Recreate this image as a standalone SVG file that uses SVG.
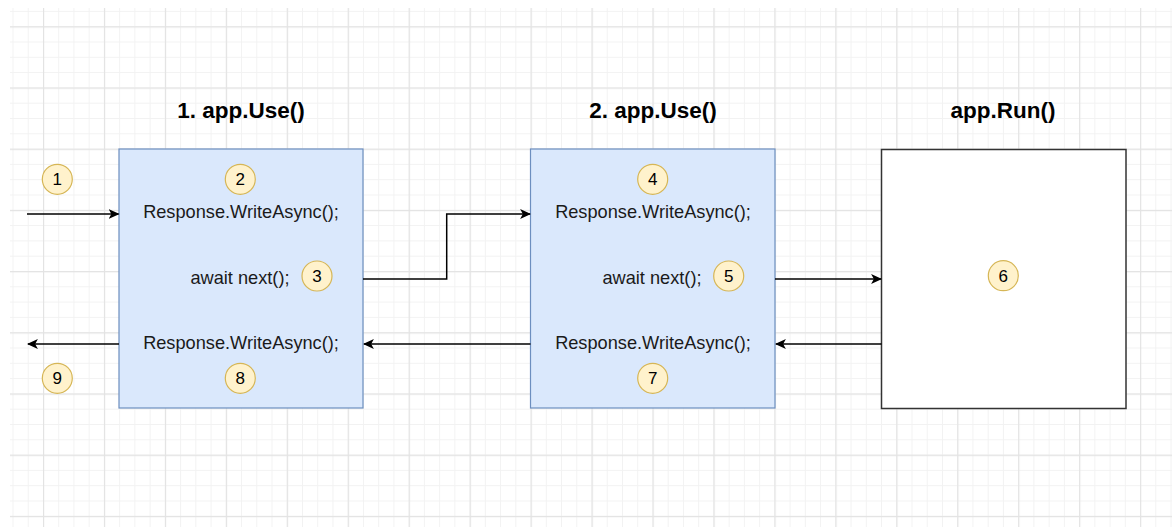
<svg xmlns="http://www.w3.org/2000/svg" width="1172" height="527" viewBox="0 0 1172 527">
  <defs>
    <pattern id="minor" x="12.5" y="10.9" width="15.2375" height="15.3" patternUnits="userSpaceOnUse">
      <path d="M0.5,0 V15.3 M0,0.5 H15.2375" fill="none" stroke="#f2f2f2" stroke-width="1"/>
    </pattern>
    <pattern id="major" x="43" y="26.3" width="60.95" height="61.2" patternUnits="userSpaceOnUse">
      <path d="M0.5,0 V61.2 M0,0.5 H60.95" fill="none" stroke="#e3e3e3" stroke-width="1.4"/>
    </pattern>
    <marker id="arrow" viewBox="0 0 10 10" refX="9" refY="5" markerWidth="11" markerHeight="11" markerUnits="userSpaceOnUse" orient="auto">
      <path d="M0,0.5 L10,5 L0,9.5 L2.5,5 Z" fill="#000"/>
    </marker>
  </defs>
  <style>
    .title { font-family: "Liberation Sans", Arial, sans-serif; font-weight: bold; font-size: 22.5px; fill: #000; text-anchor: middle; }
    .code { font-family: "Liberation Sans", Arial, sans-serif; font-size: 18.2px; fill: #1a1a1a; text-anchor: middle; }
    .mw { fill: #dae8fc; stroke: #6c8ebf; stroke-width: 1.2; }
    .run { fill: #ffffff; stroke: #333333; stroke-width: 1.5; }
    .step circle { fill: #fff2cc; stroke: #d6b656; stroke-width: 1.2; }
    .step text { font-family: "Liberation Sans", Arial, sans-serif; font-size: 17px; fill: #000; text-anchor: middle; }
    .conn { fill: none; stroke: #000; stroke-width: 1.5; marker-end: url(#arrow); }
  </style>
  <rect x="0" y="0" width="1172" height="527" fill="#ffffff"/>
  <rect x="10" y="8" width="1162" height="519" fill="url(#minor)"/>
  <rect x="10" y="8" width="1162" height="519" fill="url(#major)"/>

  <g id="mw1">
    <text class="title" x="241" y="118">1. app.Use()</text>
    <rect class="mw" x="119" y="149" width="244" height="259"/>
    <text class="code" x="241" y="218">Response.WriteAsync();</text>
    <text class="code" x="240" y="284">await next();</text>
    <text class="code" x="241" y="349">Response.WriteAsync();</text>
  </g>
  <g id="mw2">
    <text class="title" x="653" y="118">2. app.Use()</text>
    <rect class="mw" x="530.5" y="149" width="244.5" height="259"/>
    <text class="code" x="653" y="218">Response.WriteAsync();</text>
    <text class="code" x="652" y="284">await next();</text>
    <text class="code" x="653" y="349">Response.WriteAsync();</text>
  </g>
  <g id="run">
    <text class="title" x="1003" y="118">app.Run()</text>
    <rect class="run" x="881.5" y="149.5" width="244.5" height="259"/>
  </g>

  <g id="steps">
    <g class="step" id="s1"><circle cx="57.3" cy="179.3" r="15"/><text x="57.3" y="185.3">1</text></g>
    <g class="step" id="s2"><circle cx="240.3" cy="179.3" r="15"/><text x="240.3" y="185.3">2</text></g>
    <g class="step" id="s3"><circle cx="317" cy="276" r="15"/><text x="317" y="282">3</text></g>
    <g class="step" id="s4"><circle cx="652.7" cy="179.3" r="15"/><text x="652.7" y="185.3">4</text></g>
    <g class="step" id="s5"><circle cx="728.7" cy="276" r="15"/><text x="728.7" y="282">5</text></g>
    <g class="step" id="s6"><circle cx="1003.3" cy="275.7" r="15"/><text x="1003.3" y="281.7">6</text></g>
    <g class="step" id="s7"><circle cx="652.7" cy="378.3" r="15"/><text x="652.7" y="384.3">7</text></g>
    <g class="step" id="s8"><circle cx="240.3" cy="378.3" r="15"/><text x="240.3" y="384.3">8</text></g>
    <g class="step" id="s9"><circle cx="57.3" cy="378.3" r="15"/><text x="57.3" y="384.3">9</text></g>
  </g>

  <g id="connectors">
    <path class="conn" d="M27,214 H118.5"/>
    <path class="conn" d="M363,279 H446.7 V214 H530"/>
    <path class="conn" d="M775,279 H881"/>
    <path class="conn" d="M881.5,344 H776"/>
    <path class="conn" d="M530.5,344 H364"/>
    <path class="conn" d="M119,344 H28"/>
  </g>
</svg>
